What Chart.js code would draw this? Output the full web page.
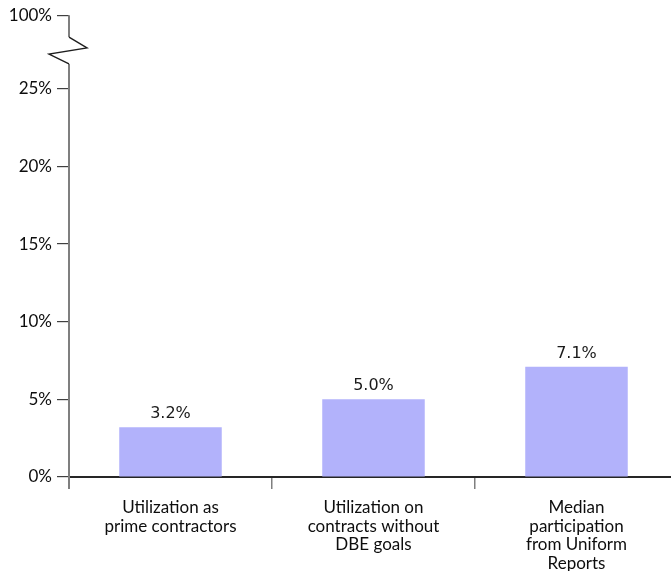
<!DOCTYPE html>
<html>
<head>
<meta charset="utf-8">
<script src="https://cdn.jsdelivr.net/npm/chart.js@4/dist/chart.umd.min.js"></script>
<style>
  html, body { margin: 0; padding: 0; background: #ffffff; overflow: hidden; }
  #wrap { width: 671px; height: 571px; position: relative; overflow: hidden; }
  #c { display: block; }
</style>
</head>
<body>
<div id="wrap"><canvas id="c" width="678" height="571" style="width:678px;height:571px"></canvas></div>
<script>
// ---- data ----
const categories = [
  ['Utilization as', 'prime contractors'],
  ['Utilization on', 'contracts without', 'DBE goals'],
  ['Median', 'participation', 'from Uniform', 'Reports']
];
const values = [3.2, 5.0, 7.1];
const valueLabels = ['3.2%', '5.0%', '7.1%'];
const yTickValues = [0, 5, 10, 15, 20, 25];
const yTickLabels = ['0%', '5%', '10%', '15%', '20%', '25%'];
const topTickLabel = '100%';

// ---- layout constants (axis break) ----
const AXIS_TOP = 29.74;      // position on the broken scale where 100% sits
const BREAK_START = 28.33;   // zigzag start (value space)
const BREAK_END = 26.6;      // zigzag end (value space)

const axisGray = '#7f7f7f';

const breakAxisPlugin = {
  id: 'breakAxis',
  afterDraw(chart) {
    const ctx = chart.ctx;
    const y = chart.scales.y;
    const ca = chart.chartArea;
    const x0 = ca.left;
    const yTop = y.getPixelForValue(AXIS_TOP);
    const yB1 = y.getPixelForValue(BREAK_START);
    const yB2 = y.getPixelForValue(BREAK_END);
    const yBottom = ca.bottom + 12;
    ctx.save();
    ctx.lineWidth = 2;
    ctx.strokeStyle = axisGray;
    ctx.beginPath();
    ctx.moveTo(x0, yTop);
    ctx.lineTo(x0, yB1);
    ctx.stroke();
    ctx.beginPath();
    ctx.moveTo(x0, yB2);
    ctx.lineTo(x0, yBottom);
    ctx.stroke();
    // zigzag
    ctx.lineWidth = 1.4;
    ctx.strokeStyle = '#1e1e1e';
    const span = yB2 - yB1;
    ctx.beginPath();
    ctx.moveTo(x0, yB1);
    ctx.lineTo(x0 + 18, yB1 + span * 0.4);
    ctx.lineTo(x0 - 20, yB1 + span * 0.63);
    ctx.lineTo(x0, yB2);
    ctx.stroke();
    ctx.restore();
  }
};

const valueLabelPlugin = {
  id: 'valueLabels',
  afterDatasetsDraw(chart) {
    const ctx = chart.ctx;
    const meta = chart.getDatasetMeta(0);
    ctx.save();
    ctx.font = '16px "DejaVu Sans"';
    ctx.fillStyle = '#1a1a1a';
    ctx.textAlign = 'center';
    ctx.textBaseline = 'alphabetic';
    meta.data.forEach((bar, i) => {
      ctx.fillText(valueLabels[i], bar.x, bar.y - 9);
    });
    ctx.restore();
  }
};

new Chart(document.getElementById('c'), {
  type: 'bar',
  data: {
    labels: categories,
    datasets: [{
      data: values,
      backgroundColor: '#b2b2fb',
      borderWidth: 0,
      categoryPercentage: 1.0,
      barPercentage: 0.505
    }]
  },
  options: {
    responsive: false,
    animation: false,
    devicePixelRatio: 1,
    layout: { padding: { top: 13, right: 0, left: 0, bottom: 0 } },
    plugins: { legend: { display: false }, tooltip: { enabled: false } },
    scales: {
      x: {
        offset: true,
        grid: {
          display: true,
          drawOnChartArea: false,
          drawTicks: true,
          tickLength: 12,
          color: axisGray,
          lineWidth: 1.5,
          offset: true
        },
        border: { display: true, color: '#262626', width: 2 },
        ticks: {
          color: '#0d0d0d',
          font: { family: 'Lato', size: 17, lineHeight: 1.1 },
          padding: 9,
          maxRotation: 0,
          autoSkip: false
        },
        afterFit(scale) { scale.height = 94; }
      },
      y: {
        min: 0,
        max: AXIS_TOP,
        afterBuildTicks(scale) {
          scale.ticks = yTickValues.concat([AXIS_TOP]).map(v => ({ value: v }));
        },
        grid: {
          display: true,
          drawOnChartArea: false,
          drawTicks: true,
          tickLength: 12,
          color: '#404040',
          lineWidth: 1.2
        },
        border: { display: false },
        ticks: {
          color: '#0d0d0d',
          font: { family: 'Lato', size: 17 },
          padding: 5,
          callback(value) {
            const idx = yTickValues.indexOf(value);
            return idx >= 0 ? yTickLabels[idx] : topTickLabel;
          }
        },
        afterFit(scale) { scale.width = 69; }
      }
    }
  },
  plugins: [breakAxisPlugin, valueLabelPlugin]
});
</script>
</body>
</html>
